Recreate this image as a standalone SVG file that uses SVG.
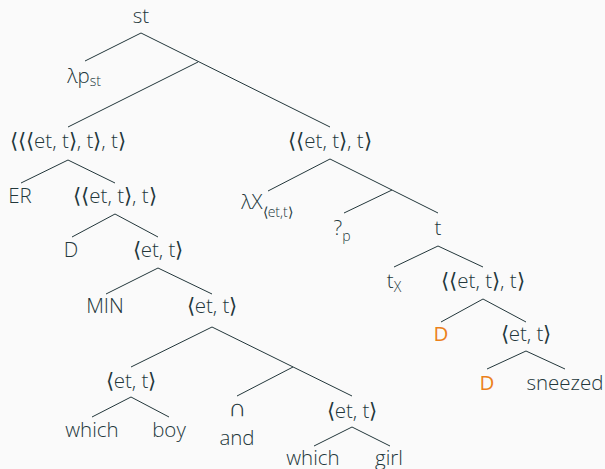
<svg xmlns="http://www.w3.org/2000/svg" width="605" height="469" viewBox="0 0 605 469">
<style>
text{font-family:"Open Sans","DejaVu Sans",sans-serif;font-weight:300;font-size:20.5px;fill:#23373b;text-anchor:middle}
.o{fill:#eb811b;font-weight:400}
.sub{font-size:14px}
.cap{font-size:25px}
#edges line{stroke:#23373b;stroke-width:1}
</style>
<rect width="605" height="469" fill="#fafafa"/>
<g id="edges">
<line x1="141" y1="33" x2="85" y2="61"/>
<line x1="141" y1="33" x2="330" y2="127"/>
<line x1="198" y1="62" x2="68" y2="127"/>
<line x1="68" y1="160" x2="21" y2="183"/>
<line x1="68" y1="160" x2="115" y2="183"/>
<line x1="115" y1="214" x2="72" y2="237"/>
<line x1="115" y1="214" x2="158" y2="237"/>
<line x1="158" y1="268" x2="106" y2="294"/>
<line x1="158" y1="268" x2="212" y2="294"/>
<line x1="212" y1="327" x2="131" y2="367"/>
<line x1="212" y1="327" x2="352" y2="396"/>
<line x1="293" y1="367" x2="237" y2="396"/>
<line x1="131" y1="397" x2="92" y2="417"/>
<line x1="131" y1="397" x2="169" y2="417"/>
<line x1="352" y1="427" x2="314" y2="446"/>
<line x1="352" y1="427" x2="390" y2="446"/>
<line x1="330" y1="159" x2="268" y2="191"/>
<line x1="330" y1="159" x2="438" y2="213"/>
<line x1="392" y1="190" x2="344" y2="213"/>
<line x1="438" y1="246" x2="394" y2="267"/>
<line x1="438" y1="246" x2="483" y2="267"/>
<line x1="483" y1="299" x2="441" y2="322"/>
<line x1="483" y1="299" x2="526" y2="322"/>
<line x1="526" y1="351" x2="487" y2="369"/>
<line x1="526" y1="351" x2="565" y2="369"/>
</g>
<g id="n-st"><text x="141" y="23">st</text></g>
<g id="n-lp"><text x="84" y="83">λp<tspan class="sub" dy="3">st</tspan></text></g>
<g id="n-q3"><text x="68" y="148">⟨⟨⟨et, t⟩, t⟩, t⟩</text></g>
<g id="n-er"><text x="20" y="203">ER</text></g>
<g id="n-q2"><text x="115" y="203">⟨⟨et, t⟩, t⟩</text></g>
<g id="n-d1"><text x="71" y="257">D</text></g>
<g id="n-et1"><text x="158" y="257">⟨et, t⟩</text></g>
<g id="n-min"><text x="105" y="313">MIN</text></g>
<g id="n-et2"><text x="212" y="313">⟨et, t⟩</text></g>
<g id="n-et3"><text x="131" y="388">⟨et, t⟩</text></g>
<g id="n-which1"><text x="92" y="437">which</text></g>
<g id="n-boy"><text x="169" y="437">boy</text></g>
<g id="n-cap"><text class="cap" x="237" y="416">∩</text><text x="237" y="445">and</text></g>
<g id="n-et4"><text x="352" y="418">⟨et, t⟩</text></g>
<g id="n-which2"><text x="313" y="465">which</text></g>
<g id="n-girl"><text x="389" y="465">girl</text></g>
<g id="n-r1"><text x="330" y="148">⟨⟨et, t⟩, t⟩</text></g>
<g id="n-lx"><text x="267" y="209">λX<tspan class="sub" dy="8">⟨et,t⟩</tspan></text></g>
<g id="n-qp"><text x="342" y="235">?<tspan class="sub" dy="6">p</tspan></text></g>
<g id="n-t"><text x="438" y="235">t</text></g>
<g id="n-tx"><text x="394" y="288">t<tspan class="sub" dy="4">X</tspan></text></g>
<g id="n-r2"><text x="483" y="288">⟨⟨et, t⟩, t⟩</text></g>
<g id="n-d2"><text class="o" x="441" y="341">D</text></g>
<g id="n-r3"><text x="526" y="341">⟨et, t⟩</text></g>
<g id="n-d3"><text class="o" x="487" y="390">D</text></g>
<g id="n-sneezed"><text x="565" y="390">sneezed</text></g>
</svg>
